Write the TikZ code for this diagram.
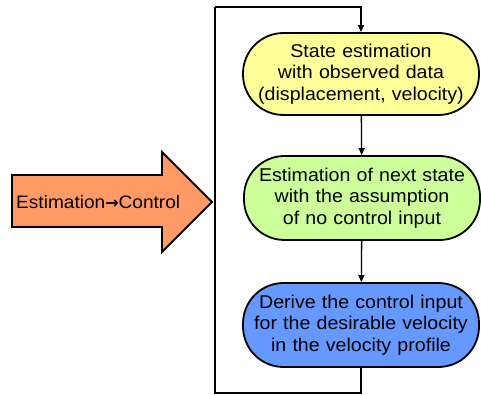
\documentclass[tikz,border=0pt]{standalone}
\usepackage{fontspec}
\setmainfont[FakeStretch=1.06]{Liberation Sans}
\newfontfamily\arrowfont{DejaVu Sans}
\usetikzlibrary{arrows.meta}
\definecolor{boxyellow}{HTML}{FFFF99}
\definecolor{boxgreen}{HTML}{CCFF99}
\definecolor{boxblue}{HTML}{6699FF}
\definecolor{arroworange}{HTML}{FF9966}
\begin{document}
\begin{tikzpicture}[x=1pt,y=1pt,
  flowbox/.style={rectangle, rounded corners=40.5pt, draw=black, line width=1.8pt,
    minimum width=236pt, text width=230pt, align=center, inner sep=0pt,
    font=\fontsize{18.5}{21.5}\selectfont},
  flowline/.style={line width=1.3pt, -{Triangle[length=7pt,width=6pt]}},
  loopline/.style={line width=1.3pt}]
\useasboundingbox (0,0) rectangle (481,-395);
\node[flowbox, fill=boxyellow, minimum height=82pt] (a) at (361,-74)
  {State estimation\\with observed data\\(displacement, velocity)};
\node[flowbox, fill=boxgreen, minimum height=84pt] (b) at (362,-198)
  {Estimation of next state\\with the assumption\\of no control input};
\node[flowbox, fill=boxblue, minimum height=84pt] (c) at (361,-325)
  {Derive the control input\\for the desirable velocity\\in the velocity profile};
\draw[flowline] (a) -- (b);
\draw[flowline] (b) -- (c);
\coordinate (bl) at (215,-393);
\coordinate (tl) at (215,-7);
\draw[loopline] (c.south) |- (bl) -- (tl);
\draw[flowline] (tl) -| (a.north);
\draw[fill=arroworange, line width=1.8pt, line join=miter]
  (12,-175) -- (162,-175) -- (162,-152) -- (212,-202) -- (162,-252) -- (162,-227) -- (12,-227) -- cycle;
\node[font=\fontsize{18}{21}\selectfont, inner sep=0pt, anchor=west] (t) at (16,-202)
  {Estimation{\arrowfont\bfseries\fontsize{16}{16}\selectfont →}Control};
\end{tikzpicture}
\end{document}
